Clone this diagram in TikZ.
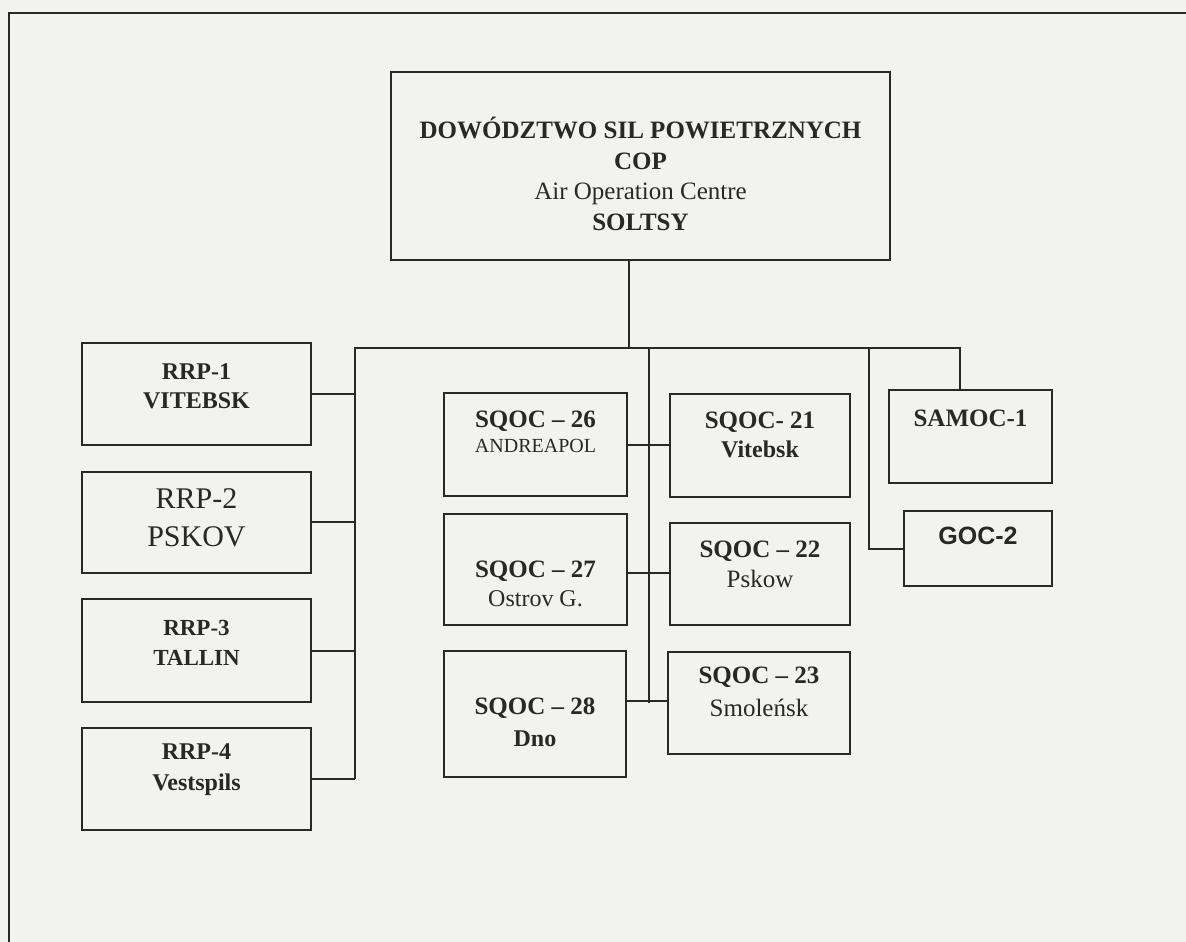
\documentclass[tikz,border=0pt]{standalone}
\usepackage{fontspec}
\setmainfont{Liberation Serif}
\newfontfamily\sansfam{Liberation Sans}
\definecolor{paper}{RGB}{242,242,240}
\definecolor{ink}{RGB}{40,40,38}
\tikzset{
  box/.style={draw=ink, line width=1.9pt, rectangle, inner sep=0pt},
  wire/.style={draw=ink, line width=1.9pt},
  lbl/.style={inner sep=0pt, align=center, text=ink}
}
\newcommand{\fs}[2]{\fontsize{#1}{#2}\selectfont}
\begin{document}
\begin{tikzpicture}[x=1pt,y=-1pt]
\useasboundingbox (0,0) rectangle (1186,942);
\fill[paper] (0,0) rectangle (1186,942);
% outer frame (top and left)
\draw[wire] (1186,13) -- (9,13) -- (9,942);

% boxes
\node[box, minimum width=499pt, minimum height=188pt] (top) at (640.5,166) {};
\node[box, minimum width=229pt, minimum height=102pt] (rrp1) at (196.5,394) {};
\node[box, minimum width=229pt, minimum height=101pt] (rrp2) at (196.5,522.5) {};
\node[box, minimum width=229pt, minimum height=103pt] (rrp3) at (196.5,650.5) {};
\node[box, minimum width=229pt, minimum height=102pt] (rrp4) at (196.5,779) {};
\node[box, minimum width=183pt, minimum height=103pt] (s26) at (535.5,444.5) {};
\node[box, minimum width=180pt, minimum height=103pt] (s21) at (760,445.5) {};
\node[box, minimum width=183pt, minimum height=111pt] (s27) at (535.5,569.5) {};
\node[box, minimum width=180pt, minimum height=102pt] (s22) at (760,574) {};
\node[box, minimum width=182pt, minimum height=126pt] (s28) at (535,714) {};
\node[box, minimum width=182pt, minimum height=102pt] (s23) at (759,703) {};
\node[box, minimum width=163pt, minimum height=93pt] (samoc) at (970.5,436.5) {};
\node[box, minimum width=148pt, minimum height=75pt] (goc) at (978,548.5) {};

% texts
\node[lbl, font={\fs{25}{30.5}}] (ttop) at ([yshift=-8pt]top.center) {\textbf{DOWÓDZTWO SIL POWIETRZNYCH}\\ \textbf{COP}\\ Air Operation Centre\\ \textbf{SOLTSY}};
\node[lbl, font={\fs{24}{29}\bfseries}] (trrp1) at ([yshift=8pt]rrp1.center) {RRP-1\\ VITEBSK};
\node[lbl, font={\fs{30}{38}}] (trrp2) at ([yshift=5pt]rrp2.center) {RRP-2\\ PSKOV};
\node[lbl, font={\fs{23}{30}\bfseries}] (trrp3) at ([yshift=8pt]rrp3.center) {RRP-3\\ TALLIN};
\node[lbl, font={\fs{24}{31}\bfseries}] (trrp4) at ([yshift=9pt]rrp4.center) {RRP-4\\ Vestspils};
\node[lbl, font={\fs{25}{25}}] (ts26) at ([yshift=13pt]s26.center) {\textbf{SQOC – 26}\\ {\fs{20}{24}ANDREAPOL}};
\node[lbl, font={\fs{25}{29}\bfseries}] (ts21) at ([yshift=11pt]s21.center) {SQOC- 21\\ {\fs{24}{29}Vitebsk}};
\node[lbl, font={\fs{25}{29}}] (ts27) at ([yshift=-14pt]s27.center) {\textbf{SQOC – 27}\\ {\fs{24}{29}Ostrov G.}};
\node[lbl, font={\fs{25}{30}}] (ts22) at ([yshift=10pt]s22.center) {\textbf{SQOC – 22}\\ Pskow};
\node[lbl, font={\fs{25}{33}}] (ts23) at ([yshift=11pt]s23.center) {\textbf{SQOC – 23}\\ Smoleńsk};
\node[lbl, font={\fs{25}{32}\bfseries}] (ts28) at ([yshift=-8pt]s28.center) {SQOC – 28\\ {\fs{24}{32}Dno}};
\node[lbl, font={\fs{25}{30}\bfseries}] (tsamoc) at ([yshift=18pt]samoc.center) {SAMOC-1};
\node[lbl, font={\fs{25}{30}\sansfam\bfseries}] (tgoc) at ([yshift=13pt]goc.center) {GOC-2};

% connectors
\coordinate (bT) at (629,348);
\coordinate (bL) at (355,348);
\coordinate (bR) at (960,348);
\coordinate (sp) at (649,348);
\coordinate (gr) at (869,348);
\draw[wire] (top.south -| bT) -- (bT);
\draw[wire] (samoc.north -| bR) -- (bR) -- (bL) -- (rrp4.east -| bL);
\draw[wire] (rrp1.east) -- (rrp1.east -| bL);
\draw[wire] (rrp2.east |- 0,522) -- (bL |- 0,522);
\draw[wire] (rrp3.east |- 0,651) -- (bL |- 0,651);
\draw[wire] (rrp4.east) -- (rrp4.east -| bL);
\draw[wire] (sp) -- (s23.west -| sp);
\draw[wire] (s26.east |- 0,445) -- (s21.west |- 0,445);
\draw[wire] (s27.east |- 0,573) -- (s22.west |- 0,573);
\draw[wire] (s28.east |- 0,701) -- (s23.west |- 0,701);
\draw[wire] (gr) |- (goc.west |- 0,549);
\end{tikzpicture}
\end{document}
